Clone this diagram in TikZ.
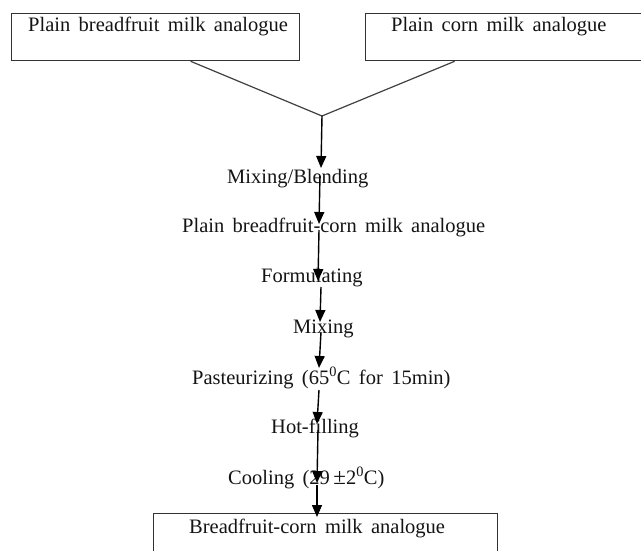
\documentclass[tikz,border=0pt]{standalone}
\usepackage{fontspec}
\setmainfont{Liberation Serif}
\usetikzlibrary{arrows.meta}
\newcommand\mylblfont{\fontsize{20.5}{24}\selectfont\spaceskip=8.4pt\relax}
\begin{document}
\begin{tikzpicture}[x=1pt,y=-1pt,
  box/.style={draw=black!80,line width=1.3pt,minimum width=#1,minimum height=47pt,inner sep=0pt,anchor=north west},
  lbl/.style={anchor=base west,inner sep=0pt,text=black!92,font=\mylblfont},
  joinline/.style={draw=black!75,line width=1.2pt},
  flow/.style={draw=black,line width=1.4pt,-{Triangle[length=12pt,width=10pt]}}]
\useasboundingbox (0,0) rectangle (641,551);
% boxes
\node[box=288pt] (b1) at (11,13) {};
\node[box=290pt] (b2) at (365,13) {};
\node[box=344pt,minimum height=60pt] (b3) at (153,513) {};
% texts
\node[lbl] (t1) at (28,32) {Plain breadfruit milk analogue};
\node[lbl] (t2) at (391,32) {Plain corn milk analogue};
\node[lbl] (s1) at (227,183) {Mixing/Blending};
\node[lbl] (s2) at (182,233) {Plain breadfruit-corn milk analogue};
\node[lbl] (s3) at (261,282) {Formulating};
\node[lbl] (s4) at (293,333) {Mixing};
\node[lbl] (s5) at (192,384) {Pasteurizing (65\textsuperscript{0}C for 15min)};
\node[lbl] (s6) at (271,433) {Hot-filling};
\node[lbl] (s7) at (228,484) {Cooling (29\,{\fontsize{23}{24}\selectfont ±}2\textsuperscript{0}C)};
\node[lbl] (t3) at (189,533) {Breadfruit-corn milk analogue};
% junction
\coordinate (j) at (322,116);
\draw[joinline] ([xshift=35pt]b1.south) -- (j);
\draw[joinline] ([xshift=-56pt]b2.south) -- (j);
% flow arrow points
\coordinate (a1) at (321,168);
\coordinate (p2) at (320,176); \coordinate (a2) at (319,224);
\coordinate (p3) at (319,230); \coordinate (a3) at (318,281);
\coordinate (p4) at (321,287); \coordinate (a4) at (320,322);
\coordinate (p5) at (321,332); \coordinate (a5) at (319,368);
\coordinate (p6) at (319,390); \coordinate (a6) at (317,424);
\coordinate (p7) at (318,430); \coordinate (a7) at (317,483);
\coordinate (p8) at (317,485); \coordinate (a8) at (317,517);
\draw[flow] (j) -- (a1);
\draw[flow] (p2) -- (a2);
\draw[flow] (p3) -- (a3);
\draw[flow] (p4) -- (a4);
\draw[flow] (p5) -- (a5);
\draw[flow] (p6) -- (a6);
\draw[flow] (p7) -- (a7);
\draw[flow] (p8) -- (a8);
\end{tikzpicture}
\end{document}
